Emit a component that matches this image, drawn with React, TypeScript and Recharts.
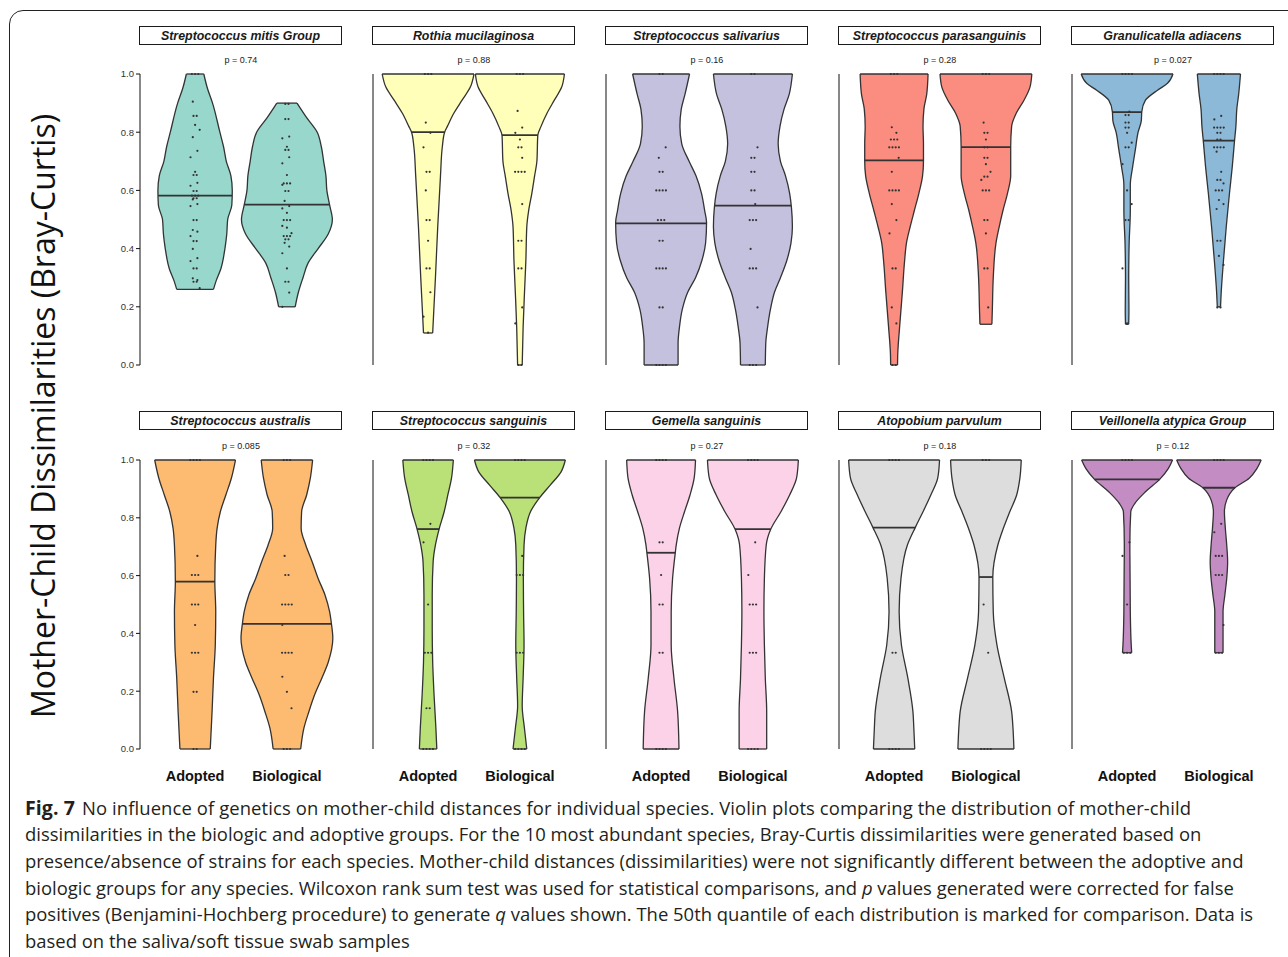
import React from 'react';
import { ComposedChart, Area, Scatter, XAxis, YAxis, ReferenceLine } from 'recharts';

const species = [
  'Streptococcus mitis Group',
  'Rothia mucilaginosa',
  'Streptococcus salivarius',
  'Streptococcus parasanguinis',
  'Granulicatella adiacens',
  'Streptococcus australis',
  'Streptococcus sanguinis',
  'Gemella sanguinis',
  'Atopobium parvulum',
  'Veillonella atypica Group',
];
const pValues = ['0.74', '0.88', '0.16', '0.28', '0.027', '0.085', '0.32', '0.27', '0.18', '0.12'];
const groups = ['Adopted', 'Biological'];
// RColorBrewer Set3
const speciesColors = ['#8DD3C7', '#FFFFB3', '#BEBADA', '#FB8072', '#80B1D3', '#FDB462', '#B3DE69', '#FCCDE5', '#D9D9D9', '#BC80BD'];
const yTicks = [0, 0.2, 0.4, 0.6, 0.8, 1];

// violin outlines as [dissimilarity, scaled density] pairs; density 1 fills the whole slot
type Outline = [number, number][];
const adoptedOutline: Outline[] = [
  [[0.26, 0.4], [0.29, 0.46], [0.33, 0.56], [0.4, 0.65], [0.45, 0.69], [0.5, 0.71], [0.55, 0.8], [0.6, 0.81], [0.65, 0.78], [0.7, 0.68], [0.75, 0.62], [0.8, 0.54], [0.9, 0.38], [0.95, 0.27], [1, 0.19]],
  [[0.11, 0.1], [0.19, 0.125], [0.3, 0.16], [0.475, 0.21], [0.65, 0.27], [0.75, 0.31], [0.8, 0.36], [0.82, 0.42], [0.865, 0.56], [0.91, 0.74], [0.955, 0.92], [1, 1]],
  [[0, 0.37], [0.075, 0.37], [0.13, 0.4], [0.19, 0.46], [0.25, 0.58], [0.3, 0.75], [0.36, 0.89], [0.42, 0.97], [0.49, 0.99], [0.53, 0.95], [0.59, 0.88], [0.65, 0.76], [0.7, 0.61], [0.76, 0.45], [0.82, 0.41], [0.88, 0.44], [0.93, 0.52], [1, 0.62]],
  [[0, 0.075], [0.04, 0.08], [0.13, 0.12], [0.25, 0.18], [0.36, 0.23], [0.42, 0.27], [0.475, 0.35], [0.53, 0.44], [0.59, 0.54], [0.65, 0.62], [0.7, 0.64], [0.76, 0.64], [0.82, 0.63], [0.88, 0.65], [0.93, 0.71], [1, 0.74]],
  [[0.14, 0.035], [0.19, 0.04], [0.3, 0.035], [0.42, 0.045], [0.53, 0.07], [0.62, 0.07], [0.68, 0.12], [0.74, 0.18], [0.8, 0.24], [0.84, 0.31], [0.87, 0.32], [0.91, 0.4], [0.945, 0.67], [0.968, 0.88], [1, 1]],
  [[0, 0.33], [0.13, 0.37], [0.245, 0.4], [0.36, 0.44], [0.475, 0.45], [0.58, 0.43], [0.706, 0.45], [0.764, 0.48], [0.821, 0.55], [0.879, 0.67], [0.937, 0.79], [1, 0.88]],
  [[0, 0.19], [0.072, 0.17], [0.187, 0.13], [0.3, 0.1], [0.418, 0.09], [0.533, 0.09], [0.648, 0.11], [0.706, 0.16], [0.761, 0.24], [0.821, 0.35], [0.879, 0.43], [0.937, 0.51], [1, 0.55]],
  [[0, 0.39], [0.13, 0.36], [0.245, 0.28], [0.36, 0.22], [0.475, 0.22], [0.59, 0.25], [0.68, 0.31], [0.706, 0.33], [0.764, 0.4], [0.821, 0.51], [0.879, 0.63], [0.937, 0.72], [1, 0.75]],
  [[0, 0.45], [0.072, 0.43], [0.13, 0.41], [0.245, 0.3], [0.36, 0.16], [0.475, 0.11], [0.59, 0.15], [0.706, 0.29], [0.766, 0.46], [0.821, 0.63], [0.879, 0.8], [0.937, 0.95], [1, 0.99]],
  [[0.333, 0.1], [0.36, 0.09], [0.475, 0.07], [0.59, 0.065], [0.706, 0.06], [0.821, 0.08], [0.85, 0.17], [0.89, 0.4], [0.933, 0.71], [0.971, 0.9], [1, 0.99]],
];
const biologicalOutline: Outline[] = [
  [[0.2, 0.18], [0.25, 0.25], [0.3, 0.35], [0.35, 0.46], [0.4, 0.68], [0.45, 0.9], [0.5, 0.99], [0.55, 0.93], [0.6, 0.87], [0.65, 0.85], [0.7, 0.8], [0.75, 0.75], [0.8, 0.66], [0.85, 0.43], [0.9, 0.22]],
  [[0, 0.05], [0.13, 0.07], [0.25, 0.1], [0.36, 0.13], [0.475, 0.15], [0.53, 0.19], [0.59, 0.26], [0.65, 0.32], [0.7, 0.37], [0.79, 0.39], [0.82, 0.46], [0.865, 0.59], [0.91, 0.75], [0.955, 0.91], [1, 0.97]],
  [[0, 0.27], [0.075, 0.28], [0.13, 0.32], [0.19, 0.38], [0.25, 0.47], [0.3, 0.6], [0.36, 0.74], [0.42, 0.83], [0.475, 0.86], [0.54, 0.84], [0.59, 0.8], [0.65, 0.71], [0.7, 0.6], [0.76, 0.55], [0.82, 0.59], [0.88, 0.68], [0.93, 0.79], [1, 0.86]],
  [[0.14, 0.13], [0.19, 0.14], [0.3, 0.16], [0.42, 0.22], [0.475, 0.29], [0.53, 0.37], [0.59, 0.47], [0.65, 0.54], [0.75, 0.54], [0.82, 0.56], [0.865, 0.66], [0.91, 0.83], [0.955, 0.96], [1, 1]],
  [[0.2, 0.035], [0.25, 0.05], [0.36, 0.1], [0.475, 0.16], [0.59, 0.23], [0.68, 0.29], [0.77, 0.34], [0.82, 0.37], [0.88, 0.39], [0.93, 0.43], [1, 0.47]],
  [[0, 0.3], [0.072, 0.37], [0.13, 0.48], [0.19, 0.61], [0.245, 0.76], [0.3, 0.9], [0.383, 1], [0.433, 0.97], [0.475, 0.93], [0.533, 0.83], [0.59, 0.68], [0.648, 0.55], [0.706, 0.41], [0.764, 0.31], [0.821, 0.32], [0.879, 0.43], [0.937, 0.51], [1, 0.56]],
  [[0, 0.15], [0.07, 0.1], [0.15, 0.05], [0.245, 0.07], [0.36, 0.09], [0.475, 0.08], [0.59, 0.075], [0.706, 0.09], [0.764, 0.13], [0.821, 0.23], [0.87, 0.43], [0.913, 0.66], [0.96, 0.9], [1, 0.99]],
  [[0, 0.3], [0.13, 0.3], [0.245, 0.27], [0.36, 0.25], [0.475, 0.24], [0.59, 0.25], [0.706, 0.29], [0.761, 0.39], [0.821, 0.61], [0.879, 0.8], [0.937, 0.95], [1, 0.99]],
  [[0, 0.61], [0.072, 0.59], [0.13, 0.56], [0.245, 0.4], [0.36, 0.24], [0.475, 0.16], [0.595, 0.15], [0.706, 0.26], [0.764, 0.38], [0.821, 0.52], [0.879, 0.67], [0.937, 0.74], [1, 0.77]],
  [[0.333, 0.09], [0.383, 0.09], [0.475, 0.09], [0.533, 0.13], [0.59, 0.17], [0.648, 0.19], [0.706, 0.17], [0.764, 0.14], [0.821, 0.12], [0.862, 0.17], [0.904, 0.35], [0.937, 0.66], [0.971, 0.83], [1, 0.92]],
];

// 50th quantile of each group
const adoptedMedian = [0.582, 0.8, 0.487, 0.703, 0.869, 0.579, 0.761, 0.679, 0.766, 0.933];
const biologicalMedian = [0.551, 0.79, 0.548, 0.749, 0.771, 0.433, 0.87, 0.761, 0.595, 0.904];

// individual mother-child pairs
const adoptedValues: number[][] = [
  [1, 1, 1, 0.905, 0.856, 0.856, 0.825, 0.808, 0.783, 0.736, 0.714, 0.664, 0.653, 0.653, 0.626, 0.616, 0.598, 0.598, 0.582, 0.582, 0.582, 0.573, 0.573, 0.569, 0.553, 0.546, 0.498, 0.498, 0.464, 0.458, 0.443, 0.426, 0.426, 0.399, 0.367, 0.357, 0.332, 0.332, 0.298, 0.292, 0.286, 0.286, 0.264],
  [1, 1, 1, 0.833, 0.798, 0.748, 0.664, 0.664, 0.6, 0.498, 0.498, 0.427, 0.332, 0.332, 0.25, 0.166, 0.111],
  [1, 1, 0.748, 0.712, 0.664, 0.664, 0.6, 0.6, 0.6, 0.6, 0.498, 0.498, 0.498, 0.427, 0.427, 0.332, 0.332, 0.332, 0.332, 0.198, 0.198, 0, 0, 0, 0],
  [1, 1, 1, 0.817, 0.798, 0.775, 0.775, 0.775, 0.748, 0.748, 0.748, 0.748, 0.712, 0.664, 0.6, 0.6, 0.6, 0.6, 0.553, 0.498, 0.452, 0.332, 0.332, 0.198, 0.143, 0, 0],
  [1, 1, 1, 1, 0.871, 0.859, 0.859, 0.833, 0.833, 0.816, 0.816, 0.798, 0.764, 0.748, 0.748, 0.69, 0.6, 0.553, 0.498, 0.498, 0.332, 0.143],
  [1, 1, 1, 1, 0.668, 0.602, 0.602, 0.602, 0.5, 0.5, 0.5, 0.429, 0.333, 0.333, 0.333, 0.198, 0.198, 0, 0],
  [1, 1, 1, 1, 0.779, 0.715, 0.5, 0.333, 0.333, 0.333, 0.141, 0.141, 0, 0, 0, 0],
  [1, 1, 1, 1, 0.715, 0.715, 0.602, 0.5, 0.5, 0.333, 0.333, 0, 0, 0, 0],
  [1, 1, 1, 1, 0.333, 0.333, 0, 0, 0, 0],
  [1, 1, 1, 1, 0.715, 0.668, 0.5, 0.333, 0.333, 0.333],
];
const biologicalValues: number[][] = [
  [0.897, 0.897, 0.845, 0.845, 0.785, 0.779, 0.75, 0.739, 0.739, 0.714, 0.693, 0.653, 0.624, 0.624, 0.624, 0.619, 0.598, 0.598, 0.564, 0.546, 0.538, 0.523, 0.498, 0.498, 0.498, 0.478, 0.472, 0.453, 0.443, 0.443, 0.443, 0.432, 0.432, 0.42, 0.407, 0.384, 0.332, 0.286, 0.286, 0.249, 0.2],
  [1, 1, 1, 0.873, 0.816, 0.798, 0.775, 0.748, 0.748, 0.712, 0.664, 0.664, 0.664, 0.664, 0.553, 0.427, 0.427, 0.332, 0.332, 0.198, 0.143, 0, 0],
  [1, 1, 0.748, 0.712, 0.712, 0.664, 0.664, 0.6, 0.6, 0.553, 0.498, 0.498, 0.498, 0.399, 0.332, 0.332, 0.332, 0.198, 0, 0, 0],
  [1, 1, 1, 0.833, 0.798, 0.798, 0.775, 0.748, 0.748, 0.712, 0.712, 0.69, 0.664, 0.647, 0.647, 0.636, 0.6, 0.6, 0.6, 0.498, 0.498, 0.452, 0.332, 0.332, 0.198],
  [1, 1, 1, 1, 0.856, 0.844, 0.816, 0.816, 0.816, 0.816, 0.798, 0.798, 0.775, 0.775, 0.748, 0.748, 0.748, 0.748, 0.733, 0.664, 0.636, 0.636, 0.624, 0.6, 0.6, 0.6, 0.567, 0.553, 0.536, 0.427, 0.427, 0.375, 0.344, 0.198, 0.198],
  [1, 1, 1, 0.668, 0.602, 0.602, 0.5, 0.5, 0.5, 0.5, 0.429, 0.333, 0.333, 0.333, 0.333, 0.25, 0.198, 0.141, 0, 0, 0],
  [1, 1, 1, 1, 0.668, 0.602, 0.602, 0.602, 0.333, 0.333, 0.333, 0, 0, 0, 0],
  [1, 1, 1, 1, 0.715, 0.602, 0.5, 0.5, 0.5, 0.333, 0.333, 0.333, 0, 0, 0, 0],
  [1, 1, 1, 0.5, 0.333, 0, 0, 0, 0],
  [1, 1, 1, 1, 0.779, 0.75, 0.668, 0.668, 0.668, 0.602, 0.602, 0.602, 0.429, 0.333, 0.333, 0.333],
];

const captionLines = [
  'dissimilarities in the biologic and adoptive groups. For the 10 most abundant species, Bray-Curtis dissimilarities were generated based on',
  'presence/absence of strains for each species. Mother-child distances (dissimilarities) were not significantly different between the adoptive and',
];

const SANS = '"Liberation Sans", Arial, Helvetica, sans-serif';
const OPEN = '"Open Sans", "Noto Sans", sans-serif';
const INK = '#333333';

const PLOT_W = 202;
const AXIS_W = 40;
const PAD = 8;
const panelLeft = (col: number) => 140 + 233 * col;
const rowBox = [
  { top: 74, height: 291, strip: 26 },
  { top: 460, height: 289, strip: 411 },
];

// density at a given value, read linearly between outline samples
function densityAt(outline: Outline, v: number) {
  for (let i = 1; i < outline.length; i++) {
    const [y0, d0] = outline[i - 1];
    const [y1, d1] = outline[i];
    if (v >= y0 && v <= y1) return d0 + ((d1 - d0) * (v - y0)) / (y1 - y0);
  }
  return 0;
}

function bandRows(outline: Outline, center: number) {
  return outline.map(([y, d]) => ({ y, band: [center - d / 2, center + d / 2] }));
}

// spread tied values side by side, nudge single ones a little
function spreadPoints(values: number[], center: number) {
  const counts = new Map<number, number>();
  values.forEach((v) => counts.set(v, (counts.get(v) || 0) + 1));
  const seen = new Map<number, number>();
  return values.map((v, i) => {
    const k = counts.get(v) || 1;
    const j = seen.get(v) || 0;
    seen.set(v, j + 1);
    const dx = k > 1 ? (j - (k - 1) / 2) * 0.035 : (((i * 7) % 5) - 2) * 0.025;
    return { x: center + dx, y: v };
  });
}

const Dot = (props: any) => <circle cx={props.cx} cy={props.cy} r={1.1} fill={INK} />;

function ViolinPanel({ index }: { index: number }) {
  const col = index % 5;
  const row = Math.floor(index / 5);
  const { top, height, strip } = rowBox[row];
  const left = panelLeft(col);
  const firstCol = col === 0;
  const bottomRow = row === 1;
  const xAxisH = bottomRow ? 40 : 0;
  const outlines = [adoptedOutline[index], biologicalOutline[index]];
  const medians = [adoptedMedian[index], biologicalMedian[index]];
  const values = [adoptedValues[index], biologicalValues[index]];
  const color = speciesColors[index];

  const segs: { key: string; y: number; half: number; center: number; w: number }[] = [];
  outlines.forEach((o, g) => {
    const c = g + 1;
    const lo = o[0];
    const hi = o[o.length - 1];
    segs.push({ key: `lo${g}`, y: lo[0], half: lo[1] / 2, center: c, w: 1.3 });
    segs.push({ key: `hi${g}`, y: hi[0], half: hi[1] / 2, center: c, w: 1.3 });
    segs.push({ key: `md${g}`, y: medians[g], half: densityAt(o, medians[g]) / 2, center: c, w: 1.8 });
  });

  return (
    <>
      <div
        style={{
          position: 'absolute',
          left: left - 1,
          top: strip,
          width: 203,
          height: 19,
          boxSizing: 'border-box',
          border: '1px solid #1a1a1a',
          display: 'flex',
          alignItems: 'center',
          justifyContent: 'center',
          fontFamily: SANS,
          fontStyle: 'italic',
          fontWeight: 700,
          fontSize: 12.4,
          color: '#1a1a1a',
        }}
      >
        {species[index]}
      </div>
      <div
        style={{
          position: 'absolute',
          left,
          top: top - 20,
          width: PLOT_W,
          textAlign: 'center',
          fontFamily: SANS,
          fontSize: 9,
          lineHeight: '12px',
          color: '#1a1a1a',
        }}
      >
        p = {pValues[index]}
      </div>
      <div style={{ position: 'absolute', left: left - AXIS_W, top: top - PAD }}>
        <ComposedChart
          layout="vertical"
          width={AXIS_W + PLOT_W + PAD}
          height={PAD + height + (bottomRow ? 0 : PAD) + xAxisH}
          margin={{ top: PAD, right: PAD, bottom: bottomRow ? 0 : PAD, left: 0 }}
        >
          <XAxis
            type="number"
            dataKey="x"
            domain={[0.4, 2.6]}
            ticks={[1, 2]}
            interval={0}
            tickFormatter={(v: number) => groups[v - 1]}
            hide={!bottomRow}
            height={xAxisH || 30}
            axisLine={false}
            tickLine={false}
            tickSize={0}
            tickMargin={22}
            tick={{ fontSize: 14.5, fontWeight: 700, fill: '#111', fontFamily: SANS }}
          />
          <YAxis
            type="number"
            dataKey="y"
            domain={[0, 1]}
            reversed
            ticks={yTicks}
            interval={0}
            width={AXIS_W}
            tickFormatter={(v: number) => v.toFixed(1)}
            axisLine={{ stroke: '#111', strokeWidth: 1 }}
            tickLine={firstCol ? { stroke: '#111' } : false}
            tickSize={4}
            tickMargin={2}
            tick={firstCol ? { fontSize: 9.5, fill: INK, fontFamily: SANS } : false}
          />
          {outlines.map((o, g) => (
            <Area
              key={`v${g}`}
              data={bandRows(o, g + 1)}
              dataKey="band"
              type="monotone"
              stroke={INK}
              strokeWidth={1.3}
              fill={color}
              fillOpacity={0.9}
              isAnimationActive={false}
            />
          ))}
          {segs.map((s) => (
            <ReferenceLine
              key={s.key}
              segment={[
                { x: s.center - s.half, y: s.y },
                { x: s.center + s.half, y: s.y },
              ]}
              stroke={INK}
              strokeWidth={s.w}
              ifOverflow="visible"
            />
          ))}
          {values.map((vals, g) => (
            <Scatter key={`p${g}`} data={spreadPoints(vals, g + 1)} shape={Dot} isAnimationActive={false} />
          ))}
        </ComposedChart>
      </div>
    </>
  );
}

export default function App() {
  const lineStyle: React.CSSProperties = {
    position: 'absolute',
    left: 25,
    whiteSpace: 'nowrap',
    fontFamily: OPEN,
    fontSize: 18.45,
    lineHeight: '26.7px',
    color: '#231f20',
  };
  return (
    <div style={{ position: 'relative', width: 1288, height: 957, overflow: 'hidden', background: '#fff' }}>
      <style>{'body{margin:0}'}</style>
      <div
        style={{
          position: 'absolute',
          left: 9,
          top: 10,
          width: 1300,
          height: 1000,
          border: '1.5px solid #222',
          borderRadius: 14,
        }}
      />
      <div
        style={{
          position: 'absolute',
          left: 43 - 350,
          top: 416 - 22,
          width: 700,
          height: 44,
          lineHeight: '44px',
          textAlign: 'center',
          transform: 'rotate(-90deg)',
          fontFamily: OPEN,
          fontSize: 32,
          color: '#111',
        }}
      >
        Mother-Child Dissimilarities (Bray-Curtis)
      </div>
      {species.map((_, i) => (
        <ViolinPanel key={i} index={i} />
      ))}
      <div style={{ ...lineStyle, top: 794.5, letterSpacing: 0.1 }}>
        <b style={{ fontSize: 19.5, marginRight: 2 }}>Fig. 7</b> No influence of genetics on mother-child distances for individual species. Violin plots comparing the distribution of mother-child
      </div>
      <div style={{ ...lineStyle, top: 794.5 + 26.7 }}>{captionLines[0]}</div>
      <div style={{ ...lineStyle, top: 794.5 + 26.7 * 2 }}>{captionLines[1]}</div>
      <div style={{ ...lineStyle, top: 794.5 + 26.7 * 3 }}>
        biologic groups for any species. Wilcoxon rank sum test was used for statistical comparisons, and <i>p</i> values generated were corrected for false
      </div>
      <div style={{ ...lineStyle, top: 794.5 + 26.7 * 4 }}>
        positives (Benjamini-Hochberg procedure) to generate <i>q</i> values shown. The 50th quantile of each distribution is marked for comparison. Data is
      </div>
      <div style={{ ...lineStyle, top: 794.5 + 26.7 * 5 }}>based on the saliva/soft tissue swab samples</div>
    </div>
  );
}
